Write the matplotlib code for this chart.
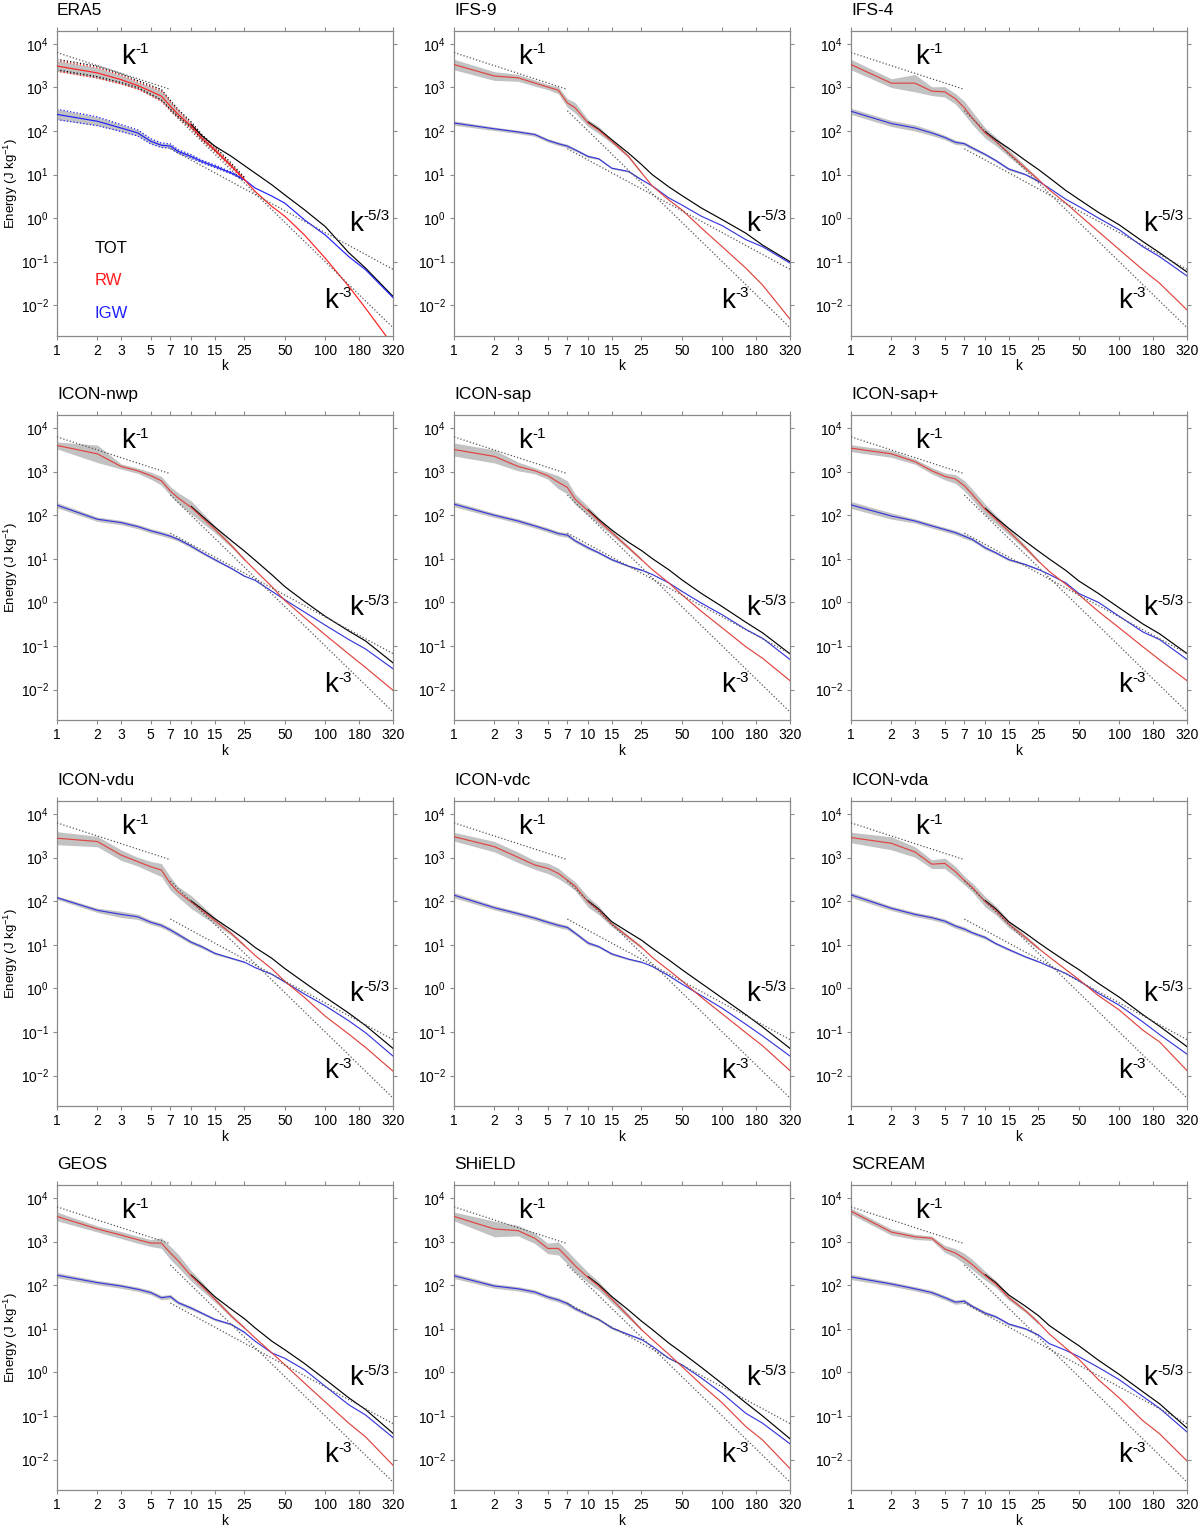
import numpy as np
import matplotlib
matplotlib.use('Agg')
import matplotlib.pyplot as plt
from matplotlib.ticker import NullLocator

plt.rcParams['font.family'] = ['Liberation Sans', 'DejaVu Sans']
plt.rcParams['mathtext.fontset'] = 'custom'
plt.rcParams['mathtext.rm'] = 'Liberation Sans'
plt.rcParams['mathtext.it'] = 'Liberation Sans:italic'
plt.rcParams['mathtext.default'] = 'regular'

K = [1, 2, 3, 4, 5, 6, 7, 8, 10, 12, 15, 20, 25, 30, 40, 50, 70, 100, 150, 200, 320]
KT = [10, 12, 15, 20, 25, 30, 40, 50, 70, 100, 150, 200, 320]
KB = K[:13]   # spread band only visible at large scales

X_TICKS = [1, 2, 3, 5, 7, 10, 15, 25, 50, 100, 180, 320]
Y_EXP = [-2, -1, 0, 1, 2, 3, 4]

# ---- ERA5
ERA5_RW = [3090, 2150, 1510, 1100, 815, 630, 370, 240, 130, 69, 37, 15.5, 7.6, 4.1, 1.85, 1.1, 0.41, 0.12, 0.027, 0.0085, 0.0012]
ERA5_IGW = [240, 167, 117, 90, 58, 47, 45, 34, 26, 20, 15.5, 10.8, 7.6, 4.9, 3.2, 2.2, 0.91, 0.41, 0.13, 0.065, 0.015]
ERA5_TOT = [140, 78, 45, 26, 16, 10.8, 5.8, 3.4, 1.55, 0.64, 0.16, 0.071, 0.016]
ERA5_RW_SP = [0.12, 0.12, 0.1, 0.08, 0.1, 0.12, 0.1, 0.08, 0.06, 0.05, 0.04, 0.03, 0.02]
ERA5_IGW_SP = [0.12, 0.1, 0.08, 0.07, 0.06, 0.05, 0.05, 0.04, 0.04, 0.03, 0.03, 0.02, 0.02]

# ---- IFS-9
IFS9_RW = [3340, 1820, 1660, 1260, 1020, 860, 440, 340, 152, 104, 58, 26, 11, 5.5, 2.6, 1.55, 0.59, 0.22, 0.071, 0.029, 0.0048]
IFS9_IGW = [152, 112, 95, 83, 61, 51, 45, 37, 26, 23, 14, 11.8, 7.6, 5.5, 2.9, 2.0, 1.1, 0.67, 0.32, 0.22, 0.093]
IFS9_TOT = [160, 110, 63, 31, 17, 10, 5.2, 3.3, 1.7, 0.92, 0.45, 0.24, 0.1]
IFS9_RW_SP = [0.12, 0.1, 0.08, 0.07, 0.06, 0.08, 0.1, 0.12, 0.08, 0.08, 0.05, 0.03, 0.02]
IFS9_IGW_SP = [0.05, 0.04, 0.04, 0.04, 0.04, 0.04, 0.04, 0.03, 0.03, 0.02, 0.02, 0.02, 0.02]

# ---- IFS-4
IFS4_RW = [3340, 1250, 1250, 820, 790, 550, 340, 200, 90, 58, 31, 14, 7.6, 4.5, 2.2, 1.2, 0.49, 0.19, 0.065, 0.032, 0.0078]
IFS4_IGW = [283, 148, 117, 90, 71, 55, 51, 41, 29, 21, 13.4, 10, 7, 4.9, 2.7, 1.85, 1.0, 0.54, 0.22, 0.13, 0.047]
IFS4_TOT = [97, 63, 40, 21, 13, 8.5, 4.3, 2.7, 1.35, 0.7, 0.29, 0.16, 0.058]
IFS4_RW_SP = [0.12, 0.1, 0.2, 0.1, 0.12, 0.12, 0.15, 0.15, 0.12, 0.1, 0.08, 0.05, 0.03]
IFS4_IGW_SP = [0.07, 0.07, 0.07, 0.06, 0.05, 0.05, 0.04, 0.04, 0.03, 0.03, 0.03, 0.02, 0.02]

# ---- ICON-nwp
NWP_RW = [4000, 2570, 1320, 1050, 810, 620, 360, 250, 152, 90, 48, 20, 9.6, 5.5, 2.3, 1.1, 0.45, 0.18, 0.065, 0.032, 0.0096]
NWP_IGW = [170, 81, 68, 55, 44, 38, 33, 28, 19.6, 14, 9.6, 6, 4, 3.2, 1.8, 1.15, 0.6, 0.30, 0.14, 0.085, 0.03]
NWP_TOT = [160, 97, 54, 26, 15, 9.3, 4.3, 2.3, 1.05, 0.48, 0.22, 0.13, 0.041]
NWP_RW_SP = [0.08, 0.2, 0.06, 0.06, 0.08, 0.1, 0.1, 0.12, 0.15, 0.12, 0.08, 0.04, 0.03]

# ---- ICON-sap
SAP_RW = [3230, 2240, 1320, 1050, 810, 570, 435, 234, 126, 74, 40, 18, 9.6, 5.7, 2.8, 1.5, 0.62, 0.26, 0.096, 0.052, 0.016]
SAP_IGW = [180, 100, 74, 57, 46, 38, 35, 26, 18, 13.8, 9.6, 6.8, 5.5, 4.4, 2.8, 1.8, 0.96, 0.52, 0.24, 0.15, 0.049]
SAP_TOT = [133, 80, 46, 24, 15.5, 10.2, 5.6, 3.3, 1.6, 0.8, 0.35, 0.2, 0.066]
SAP_RW_SP = [0.15, 0.15, 0.1, 0.07, 0.08, 0.15, 0.15, 0.12, 0.1, 0.08, 0.06, 0.04, 0.03]

# ---- ICON-sap+
SAPP_RW = [3460, 2570, 1700, 1050, 780, 680, 475, 305, 137, 81, 43, 18, 8.8, 5.2, 2.6, 1.5, 0.62, 0.26, 0.096, 0.048, 0.016]
SAPP_IGW = [173, 96, 74, 57, 47, 40, 33, 28, 18, 13.8, 9.6, 7.4, 5.7, 4.4, 2.8, 1.6, 1.0, 0.48, 0.21, 0.14, 0.049]
SAPP_TOT = [145, 88, 50, 25, 15, 10, 5.4, 3.1, 1.6, 0.75, 0.32, 0.19, 0.067]
SAPP_RW_SP = [0.08, 0.08, 0.06, 0.07, 0.08, 0.1, 0.12, 0.12, 0.12, 0.1, 0.08, 0.05, 0.03]
SAPP_IGW_SP = [0.08, 0.07, 0.05, 0.05, 0.05, 0.05, 0.05, 0.04, 0.04, 0.03, 0.03, 0.02, 0.02]

# ---- ICON-vdu
VDU_RW = [2800, 2350, 1150, 810, 620, 520, 255, 164, 96, 62, 36, 18, 9.6, 5.7, 2.8, 1.45, 0.62, 0.23, 0.089, 0.044, 0.0126]
VDU_IGW = [121, 62, 50, 44, 33, 28, 22, 17.3, 11.5, 9.1, 6.4, 4.9, 4.0, 3.0, 2.1, 1.4, 0.74, 0.40, 0.18, 0.096, 0.028]
VDU_TOT = [102, 67, 40, 22, 13.6, 8.7, 4.9, 2.85, 1.36, 0.63, 0.27, 0.14, 0.042]
VDU_RW_SP = [0.15, 0.12, 0.12, 0.1, 0.12, 0.15, 0.15, 0.12, 0.15, 0.12, 0.08, 0.04, 0.03]
VDU_IGW_SP = [0.04, 0.05, 0.07, 0.06, 0.05, 0.05, 0.05, 0.05, 0.04, 0.04, 0.03, 0.02, 0.02]

# ---- ICON-vdc
VDC_RW = [3030, 1790, 1020, 680, 570, 435, 305, 222, 96, 62, 30, 15, 8.8, 5.2, 2.6, 1.5, 0.62, 0.26, 0.096, 0.048, 0.013]
VDC_IGW = [138, 71, 52, 41, 33, 28, 25, 18.6, 11, 9.1, 6.2, 4.7, 4.0, 3.2, 1.95, 1.26, 0.68, 0.35, 0.15, 0.081, 0.028]
VDC_TOT = [102, 66, 34, 19.5, 12.8, 8.4, 4.5, 2.7, 1.3, 0.6, 0.25, 0.13, 0.042]
VDC_RW_SP = [0.1, 0.12, 0.12, 0.1, 0.12, 0.12, 0.1, 0.1, 0.12, 0.1, 0.06, 0.04, 0.03]

# ---- ICON-vda
VDA_RW = [2900, 2140, 1350, 710, 740, 480, 300, 210, 98, 62, 30, 14.8, 8.3, 5.3, 2.7, 1.6, 0.68, 0.32, 0.11, 0.059, 0.013]
VDA_IGW = [140, 69, 50, 42, 35, 27, 23, 19, 14.8, 10.7, 7.8, 5.3, 4.1, 3.2, 2.2, 1.5, 0.77, 0.41, 0.17, 0.087, 0.031]
VDA_TOT = [104, 67, 34, 18.5, 11.2, 7.6, 4.2, 2.7, 1.3, 0.63, 0.25, 0.135, 0.046]
VDA_RW_SP = [0.12, 0.15, 0.12, 0.1, 0.12, 0.12, 0.1, 0.1, 0.12, 0.1, 0.08, 0.05, 0.03]

# ---- GEOS
GEOS_RW = [3800, 1960, 1420, 1110, 930, 930, 550, 365, 164, 96, 48, 19.5, 10.5, 6.2, 2.8, 1.5, 0.57, 0.21, 0.068, 0.033, 0.0074]
GEOS_IGW = [170, 115, 96, 81, 68, 52, 55, 40, 30, 23, 16.5, 12.6, 8.3, 5.2, 2.8, 2.1, 1.15, 0.48, 0.18, 0.105, 0.032]
GEOS_TOT = [172, 104, 55, 28, 17, 10.5, 5.2, 3.3, 1.6, 0.69, 0.26, 0.14, 0.04]
GEOS_RW_SP = [0.1, 0.07, 0.08, 0.08, 0.08, 0.12, 0.15, 0.15, 0.12, 0.1, 0.06, 0.04, 0.03]

# ---- SHiELD
SHIELD_RW = [3800, 1960, 1790, 1200, 700, 700, 435, 280, 150, 96, 48, 19.5, 9.6, 5.7, 2.6, 1.37, 0.52, 0.2, 0.057, 0.028, 0.0062]
SHIELD_IGW = [165, 96, 83, 70, 54, 46, 38, 29, 21, 16.5, 10.5, 7.4, 5.7, 4.0, 2.1, 1.5, 0.74, 0.33, 0.115, 0.068, 0.023]
SHIELD_TOT = [158, 103, 55, 27, 15, 9.7, 4.7, 2.85, 1.3, 0.55, 0.2, 0.1, 0.03]
SHIELD_RW_SP = [0.1, 0.18, 0.12, 0.12, 0.12, 0.15, 0.15, 0.15, 0.12, 0.1, 0.08, 0.05, 0.03]

# ---- SCREAM
SCREAM_RW = [5000, 1660, 1290, 1200, 680, 550, 410, 300, 166, 107, 52, 26, 13.9, 7.7, 3.6, 2.0, 0.68, 0.26, 0.078, 0.039, 0.0093]
SCREAM_IGW = [155, 107, 83, 68, 52, 41, 43, 33, 23, 19, 12.9, 10, 7.2, 4.6, 3.2, 2.3, 1.3, 0.68, 0.28, 0.15, 0.043]
SCREAM_TOT = [175, 115, 60, 33, 20, 12, 6.5, 4.1, 1.9, 0.9, 0.36, 0.19, 0.053]
SCREAM_RW_SP = [0.07, 0.07, 0.06, 0.05, 0.08, 0.1, 0.12, 0.12, 0.1, 0.08, 0.06, 0.04, 0.04]

IGW_SP = [0.06, 0.05, 0.05, 0.05, 0.05, 0.05, 0.05, 0.04, 0.04, 0.03, 0.03, 0.02, 0.02]

PANELS = [
    ("ERA5", ERA5_RW, ERA5_IGW, ERA5_TOT, ERA5_RW_SP, ERA5_IGW_SP),
    ("IFS-9", IFS9_RW, IFS9_IGW, IFS9_TOT, IFS9_RW_SP, IFS9_IGW_SP),
    ("IFS-4", IFS4_RW, IFS4_IGW, IFS4_TOT, IFS4_RW_SP, IFS4_IGW_SP),
    ("ICON-nwp", NWP_RW, NWP_IGW, NWP_TOT, NWP_RW_SP, IGW_SP),
    ("ICON-sap", SAP_RW, SAP_IGW, SAP_TOT, SAP_RW_SP, IGW_SP),
    ("ICON-sap+", SAPP_RW, SAPP_IGW, SAPP_TOT, SAPP_RW_SP, SAPP_IGW_SP),
    ("ICON-vdu", VDU_RW, VDU_IGW, VDU_TOT, VDU_RW_SP, VDU_IGW_SP),
    ("ICON-vdc", VDC_RW, VDC_IGW, VDC_TOT, VDC_RW_SP, IGW_SP),
    ("ICON-vda", VDA_RW, VDA_IGW, VDA_TOT, VDA_RW_SP, IGW_SP),
    ("GEOS", GEOS_RW, GEOS_IGW, GEOS_TOT, GEOS_RW_SP, IGW_SP),
    ("SHiELD", SHIELD_RW, SHIELD_IGW, SHIELD_TOT, SHIELD_RW_SP, IGW_SP),
    ("SCREAM", SCREAM_RW, SCREAM_IGW, SCREAM_TOT, SCREAM_RW_SP, IGW_SP),
]

# reference slopes
A_M1, A_M53, A_M3 = 6300.0, 1000.0, 1.0e5

RED = '#e0443f'
BLUE = '#3838dc'
BAND = '#c2c2c2'
GREY = '#8a8a8a'

W, H = 1200, 1529
COL_LEFT = [57, 454, 851]
ROW_TOP = [30.7, 415, 801, 1185]
AX_W, AX_H = 336, 305


def sup_label(ax, x, y, sup):
    t = ax.text(x, y, 'k', fontsize=20, ha='left', va='center')
    ax.annotate(sup, xy=(1, 1), xycoords=t, xytext=(0.5, 1), textcoords='offset points',
                fontsize=11, ha='left', va='top')


def draw_panel(ax, name, rw, igw, tot, rw_sp, igw_sp, first_col, era5):
    k = np.array(K, dtype=float)
    kb = np.array(KB, dtype=float)
    nb = len(KB)
    rw = np.array(rw)
    igw = np.array(igw)
    s_rw = np.array(rw_sp)
    s_igw = np.array(igw_sp)

    ax.fill_between(kb, rw[:nb] * 10 ** -s_rw, rw[:nb] * 10 ** s_rw, color=BAND, lw=0, zorder=1)
    ax.fill_between(kb, igw[:nb] * 10 ** -s_igw, igw[:nb] * 10 ** s_igw, color=BAND, lw=0, zorder=1)
    if era5:
        for sgn in (-1, 1):
            ax.plot(kb, rw[:nb] * 10 ** (sgn * s_rw), ':', color='#ff2020', lw=0.9, zorder=2)
            ax.plot(kb, rw[:nb] * 10 ** (sgn * s_rw) * 1.08, ':', color='k', lw=0.9, zorder=2)
            ax.plot(kb, igw[:nb] * 10 ** (sgn * s_igw), ':', color='#2020ff', lw=0.9, zorder=2)

    ax.plot(KT, tot, color='k', lw=0.85, zorder=3)
    ax.plot(k, igw, color='#2020ff' if era5 else BLUE, lw=0.85, zorder=4)
    ax.plot(k, rw, color='#ff2020' if era5 else RED, lw=0.85, zorder=5)

    # reference power laws
    k1 = np.array([1.0, 7.0])
    k2 = np.array([7.0, 320.0])
    ax.plot(k1, A_M1 * k1 ** -1, ':', color='#555555', lw=0.9, zorder=6)
    ax.plot(k2, A_M53 * k2 ** (-5 / 3), ':', color='#555555', lw=0.9, zorder=6)
    ax.plot(k2, A_M3 * k2 ** -3, ':', color='#555555', lw=0.9, zorder=6)

    sup_label(ax, 3.0, 10 ** 3.7, '-1')
    sup_label(ax, 150, 10 ** -0.13, '-5/3')
    sup_label(ax, 98, 10 ** -1.9, '-3')

    if era5:
        ax.text(1.9, 10 ** -0.69, 'TOT', color='k', fontsize=12, va='center')
        ax.text(1.9, 10 ** -1.44, 'RW', color='#ff1a1a', fontsize=12, va='center')
        ax.text(1.9, 10 ** -2.18, 'IGW', color='#2020ff', fontsize=12, va='center')

    ax.set_xscale('log')
    ax.set_yscale('log')
    ax.set_xlim(1, 320)
    ax.set_ylim(2e-3, 2e4)
    ax.set_xticks(X_TICKS)
    ax.set_xticklabels([str(v) for v in X_TICKS])
    ax.set_yticks([10.0 ** e for e in Y_EXP])
    ax.set_yticklabels([r'$10^{%d}$' % e for e in Y_EXP])
    ax.xaxis.set_minor_locator(NullLocator())
    ax.yaxis.set_minor_locator(NullLocator())
    ax.tick_params(which='major', direction='out', length=3, width=0.8, color=GREY,
                   labelsize=10, top=True, right=True, pad=3)
    for sp in ax.spines.values():
        sp.set_color(GREY)
        sp.set_linewidth(0.9)
    ax.set_xlabel('k', fontsize=10, labelpad=1)
    if first_col:
        ax.set_ylabel(r'Energy (J kg$^{-1}$)', fontsize=9.5)
        ax.yaxis.set_label_coords(-0.11, 0.5)
    ax.text(0.0, 1 + 16 / AX_H, name, transform=ax.transAxes, ha='left', va='baseline', fontsize=12.5)


fig = plt.figure(figsize=(W / 100, H / 100), dpi=100)
for i, (name, rw, igw, tot, rw_sp, igw_sp) in enumerate(PANELS):
    r, c = divmod(i, 3)
    left = COL_LEFT[c] / W
    bottom = 1 - (ROW_TOP[r] + AX_H) / H
    ax = fig.add_axes([left, bottom, AX_W / W, AX_H / H])
    draw_panel(ax, name, rw, igw, tot, rw_sp, igw_sp, c == 0, name == 'ERA5')

fig.savefig('out.png', dpi=100)
